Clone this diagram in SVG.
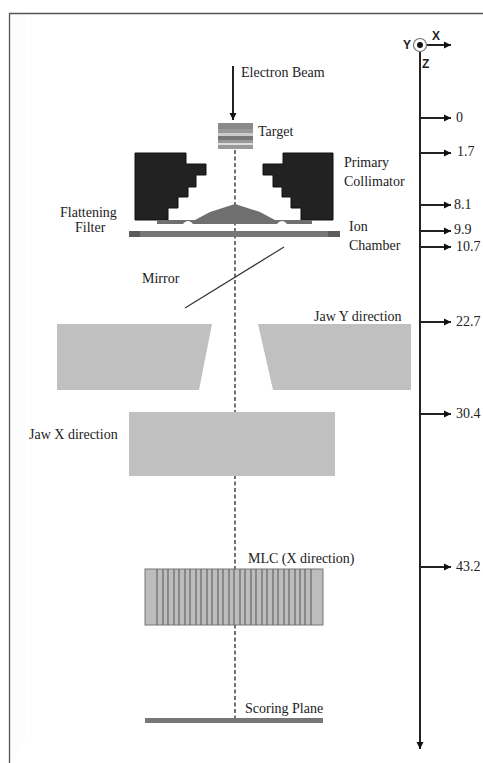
<svg xmlns="http://www.w3.org/2000/svg" width="483" height="763" viewBox="0 0 483 763">
<style>
text{font-family:"Liberation Serif","Times New Roman",serif;font-size:14px;fill:#222}
.s{font-family:"Liberation Sans",Arial,sans-serif;font-weight:bold;font-size:12px}
.ax{stroke:#222;stroke-width:2;fill:none}
.g{fill:#c0c0c0}
.k{fill:#222;stroke:#111}
.leaf{stroke:#666;stroke-width:1.2;fill:none}
</style>
<defs>
<marker id="a" markerUnits="userSpaceOnUse" markerWidth="8" markerHeight="8" refX="7" refY="4" orient="auto"><path d="M0 0.5L7 4L0 7.5z" fill="#111"/></marker>
</defs>
<rect width="483" height="763" fill="#fff"/>
<path d="M9.500 763V13.500H483V14" fill="#fcfcfc" stroke="#555" stroke-width="1.300"/>
<rect x="25" y="15" width="458" height="735" fill="#fff"/>
<g id="connectors">
<path d="M235 150V718" stroke="#444" stroke-width="1.500" stroke-dasharray="4 2.500" fill="none"/>
<path class="ax" d="M233 66V120" stroke-width="1.300" marker-end="url(#a)"/>
<path class="ax" d="M420 52V749" marker-end="url(#a)"/>
<path class="ax" d="M426 45H451" marker-end="url(#a)"/>
<path class="ax" d="M420 118H451" marker-end="url(#a)"/>
<path class="ax" d="M420 153H451" marker-end="url(#a)"/>
<path class="ax" d="M420 205H451" marker-end="url(#a)"/>
<path class="ax" d="M420 231H451" marker-end="url(#a)"/>
<path class="ax" d="M420 247H451" marker-end="url(#a)"/>
<path class="ax" d="M420 322H451" marker-end="url(#a)"/>
<path class="ax" d="M420 414H451" marker-end="url(#a)"/>
<path class="ax" d="M420 567H451" marker-end="url(#a)"/>
</g>
<g id="axes-origin">
<circle cx="420" cy="45" r="6.500" fill="#fff" stroke="#777" stroke-width="1.200"/>
<circle cx="420" cy="45" r="3" fill="#111"/>
<text class="s" x="403" y="49">Y</text>
<text class="s" x="432" y="40">X</text>
<text class="s" x="422" y="68">Z</text>
</g>
<g id="ticks">
<text x="456" y="122">0</text>
<text x="457" y="156">1.7</text>
<text x="454" y="209">8.1</text>
<text x="454" y="234">9.9</text>
<text x="456" y="251">10.7</text>
<text x="456" y="326">22.7</text>
<text x="456" y="418">30.4</text>
<text x="456" y="571">43.2</text>
</g>
<g id="electron-beam"><text x="241" y="77">Electron Beam</text></g>
<g id="target">
<rect x="218" y="123" width="35" height="26" fill="#999"/>
<rect x="218" y="123" width="35" height="6" fill="#8a8a8a"/>
<rect x="218" y="133" width="35" height="3" fill="#ccc"/>
<rect x="218" y="136" width="35" height="4" fill="#777"/>
<rect x="218" y="143" width="35" height="2" fill="#ddd"/>
<text x="258" y="136">Target</text>
</g>
<g id="primary-collimator">
<path class="k" d="M135 153H186V164H206V175H196V187H188V197H178V208H168V220H135z"/>
<path class="k" d="M333 153H283V164H263V175H273V187H282V197H291V208H301V220H333z"/>
<text x="344" y="167">Primary</text>
<text x="344" y="186">Collimator</text>
</g>
<g id="flattening-filter">
<path d="M157 220H195L210 212L235 204L260 212L275 220H312V224H287C284 220 280 220 277 224H193C190 220 186 220 183 224H157z" fill="#6f6f6f"/>
<text x="60" y="217">Flattening</text>
<text x="75" y="232">Filter</text>
</g>
<g id="ion-chamber">
<rect x="129" y="231" width="211" height="6" fill="#777"/>
<rect x="129" y="231" width="11" height="6" fill="#5c5c5c"/>
<rect x="328" y="231" width="12" height="6" fill="#5c5c5c"/>
<text x="349" y="231">Ion</text>
<text x="349" y="250">Chamber</text>
</g>
<g id="mirror">
<path d="M185 308L284 247" stroke="#333" stroke-width="1.200" fill="none"/>
<text x="142" y="283">Mirror</text>
</g>
<g id="jaw-y">
<path class="g" d="M57 324H212L199 390H57z"/>
<path class="g" d="M258 324H411V390H273z"/>
<text x="314" y="321">Jaw Y direction</text>
</g>
<g id="jaw-x">
<rect class="g" x="129" y="412" width="206" height="64"/>
<text x="29" y="439">Jaw X direction</text>
</g>
<g id="mlc">
<rect x="145" y="569" width="178" height="56" fill="#bdbdbd" stroke="#777" stroke-width="1"/>
<path class="leaf" d="M157 569v56M163 569v56M168 569v56M174 569v56M179 569v56M185 569v56M190 569v56M196 569v56M201 569v56M207 569v56M212 569v56M218 569v56M223 569v56M229 569v56M234 569v56M240 569v56M245 569v56M251 569v56M256 569v56M262 569v56M267 569v56M273 569v56M278 569v56M284 569v56M289 569v56M295 569v56M300 569v56M305 569v56M311 569v56"/>
<text x="248" y="563">MLC (X direction)</text>
</g>
<g id="scoring-plane">
<rect x="145" y="718" width="178" height="5" fill="#777"/>
<text x="245" y="713">Scoring Plane</text>
</g>
</svg>
